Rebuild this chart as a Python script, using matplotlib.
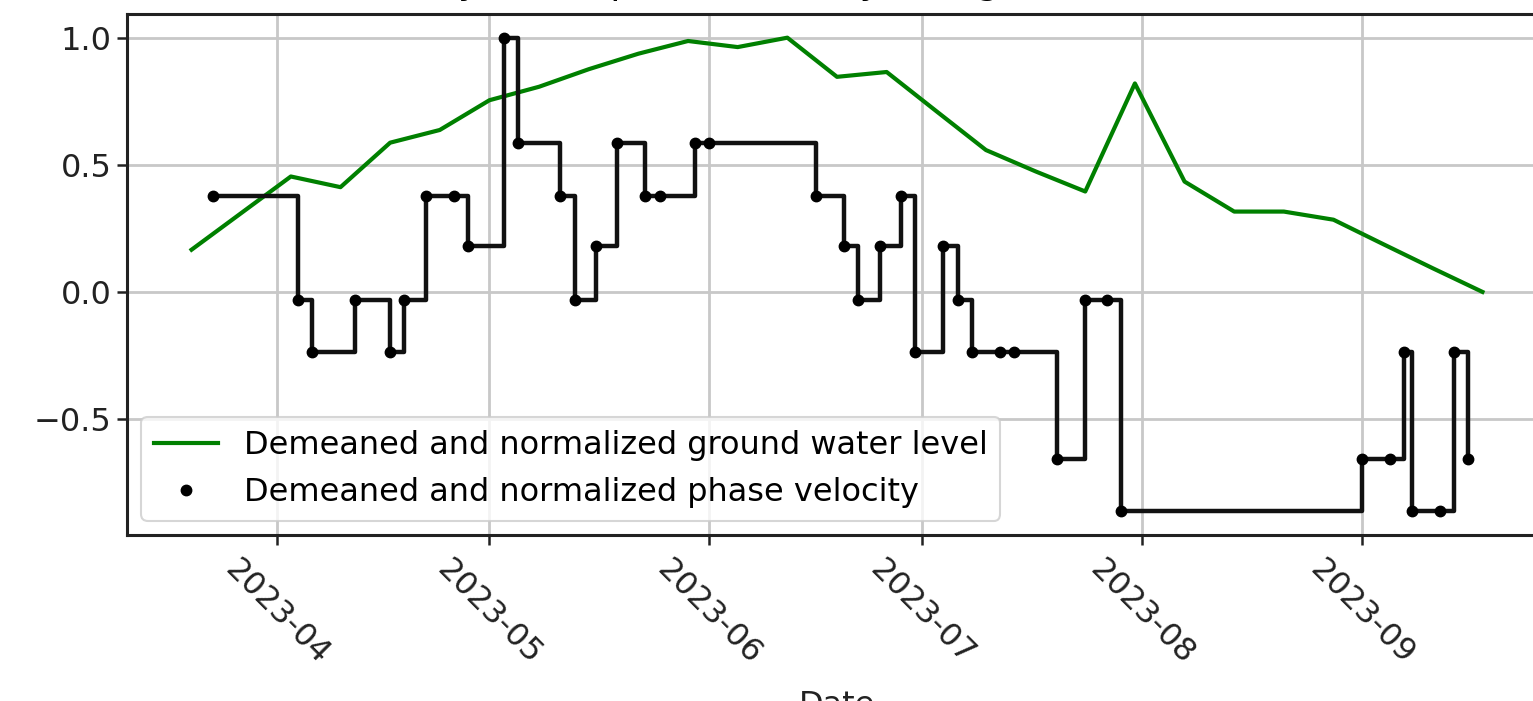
import matplotlib
matplotlib.use("Agg")
import matplotlib.pyplot as plt
import matplotlib.dates as mdates
import pandas as pd

# Ground water level, weekly samples (demeaned and normalized)
gw_dates = pd.date_range("2023-03-20", periods=27, freq="7D")
gw_level = [0.166, 0.31, 0.454, 0.412, 0.587, 0.637, 0.754, 0.807, 0.876,
            0.937, 0.987, 0.963, 1.0, 0.846, 0.865, 0.711, 0.558, 0.474,
            0.395, 0.82, 0.434, 0.316, 0.316, 0.284, 0.188, 0.093, 0.0]

# Phase velocity measurements (demeaned and normalized)
pv_dates = pd.to_datetime([
    "2023-03-23", "2023-04-04", "2023-04-06", "2023-04-12", "2023-04-17",
    "2023-04-19", "2023-04-22", "2023-04-26", "2023-04-28", "2023-05-03",
    "2023-05-05", "2023-05-11", "2023-05-13", "2023-05-16", "2023-05-19",
    "2023-05-23", "2023-05-25", "2023-05-30", "2023-06-01", "2023-06-16",
    "2023-06-20", "2023-06-22", "2023-06-25", "2023-06-28", "2023-06-30",
    "2023-07-04", "2023-07-06", "2023-07-08", "2023-07-12", "2023-07-14",
    "2023-07-20", "2023-07-24", "2023-07-27", "2023-07-29", "2023-09-01",
    "2023-09-05", "2023-09-07", "2023-09-08", "2023-09-12", "2023-09-14",
    "2023-09-16"])
pv_value = [0.379, -0.030, -0.236, -0.030, -0.236, -0.030, 0.379, 0.379,
            0.179, 1.0, 0.587, 0.379, -0.030, 0.179, 0.587, 0.379, 0.379,
            0.587, 0.587, 0.379, 0.179, -0.030, 0.179, 0.379, -0.236, 0.179,
            -0.030, -0.236, -0.236, -0.236, -0.656, -0.030, -0.030, -0.863,
            -0.656, -0.656, -0.236, -0.863, -0.863, -0.236, -0.656]

title = "Weekly mean phase velocity and ground water level"
gw_label = "Demeaned and normalized ground water level"
pv_label = "Demeaned and normalized phase velocity"

W, H = 1533, 701
fig = plt.figure(figsize=(W / 100, H / 100), dpi=100)
ax = fig.add_axes([127 / W, 1 - 535 / H, (1547 - 127) / W, (535 - 14) / H])

fs = 23
ax.plot(gw_dates, gw_level, color="green", lw=3.0, label=gw_label, zorder=3)
ax.step(pv_dates, pv_value, where="post", color="#111111", lw=3.2, zorder=4)
ax.plot(pv_dates, pv_value, ".", color="black", markersize=15, label=pv_label,
        zorder=5)

ax.grid(True, color="#c8c8c8", lw=2.0)
ax.set_axisbelow(True)
for s in ax.spines.values():
    s.set_linewidth(2.2)
    s.set_color("#222222")

ax.xaxis.set_major_locator(mdates.MonthLocator())
ax.xaxis.set_major_formatter(mdates.DateFormatter("%Y-%m"))
ax.set_yticks([-0.5, 0.0, 0.5, 1.0])
ax.tick_params(axis="both", labelsize=fs, length=7.5, width=1.8,
               colors="#222222", labelcolor="#222222")
ax.tick_params(axis="x", pad=6)
for lbl in ax.get_xticklabels():
    lbl.set_rotation(-45)
    lbl.set_ha("center")

ax.set_xlabel("Date", fontsize=fs, color="#222222", labelpad=14)
ax.set_title(title, fontsize=27, pad=15.1)

leg = ax.legend(loc="lower left", fontsize=fs, borderaxespad=0.45)
leg.get_frame().set_linewidth(1.5)

fig.savefig("out.png", dpi=100)
